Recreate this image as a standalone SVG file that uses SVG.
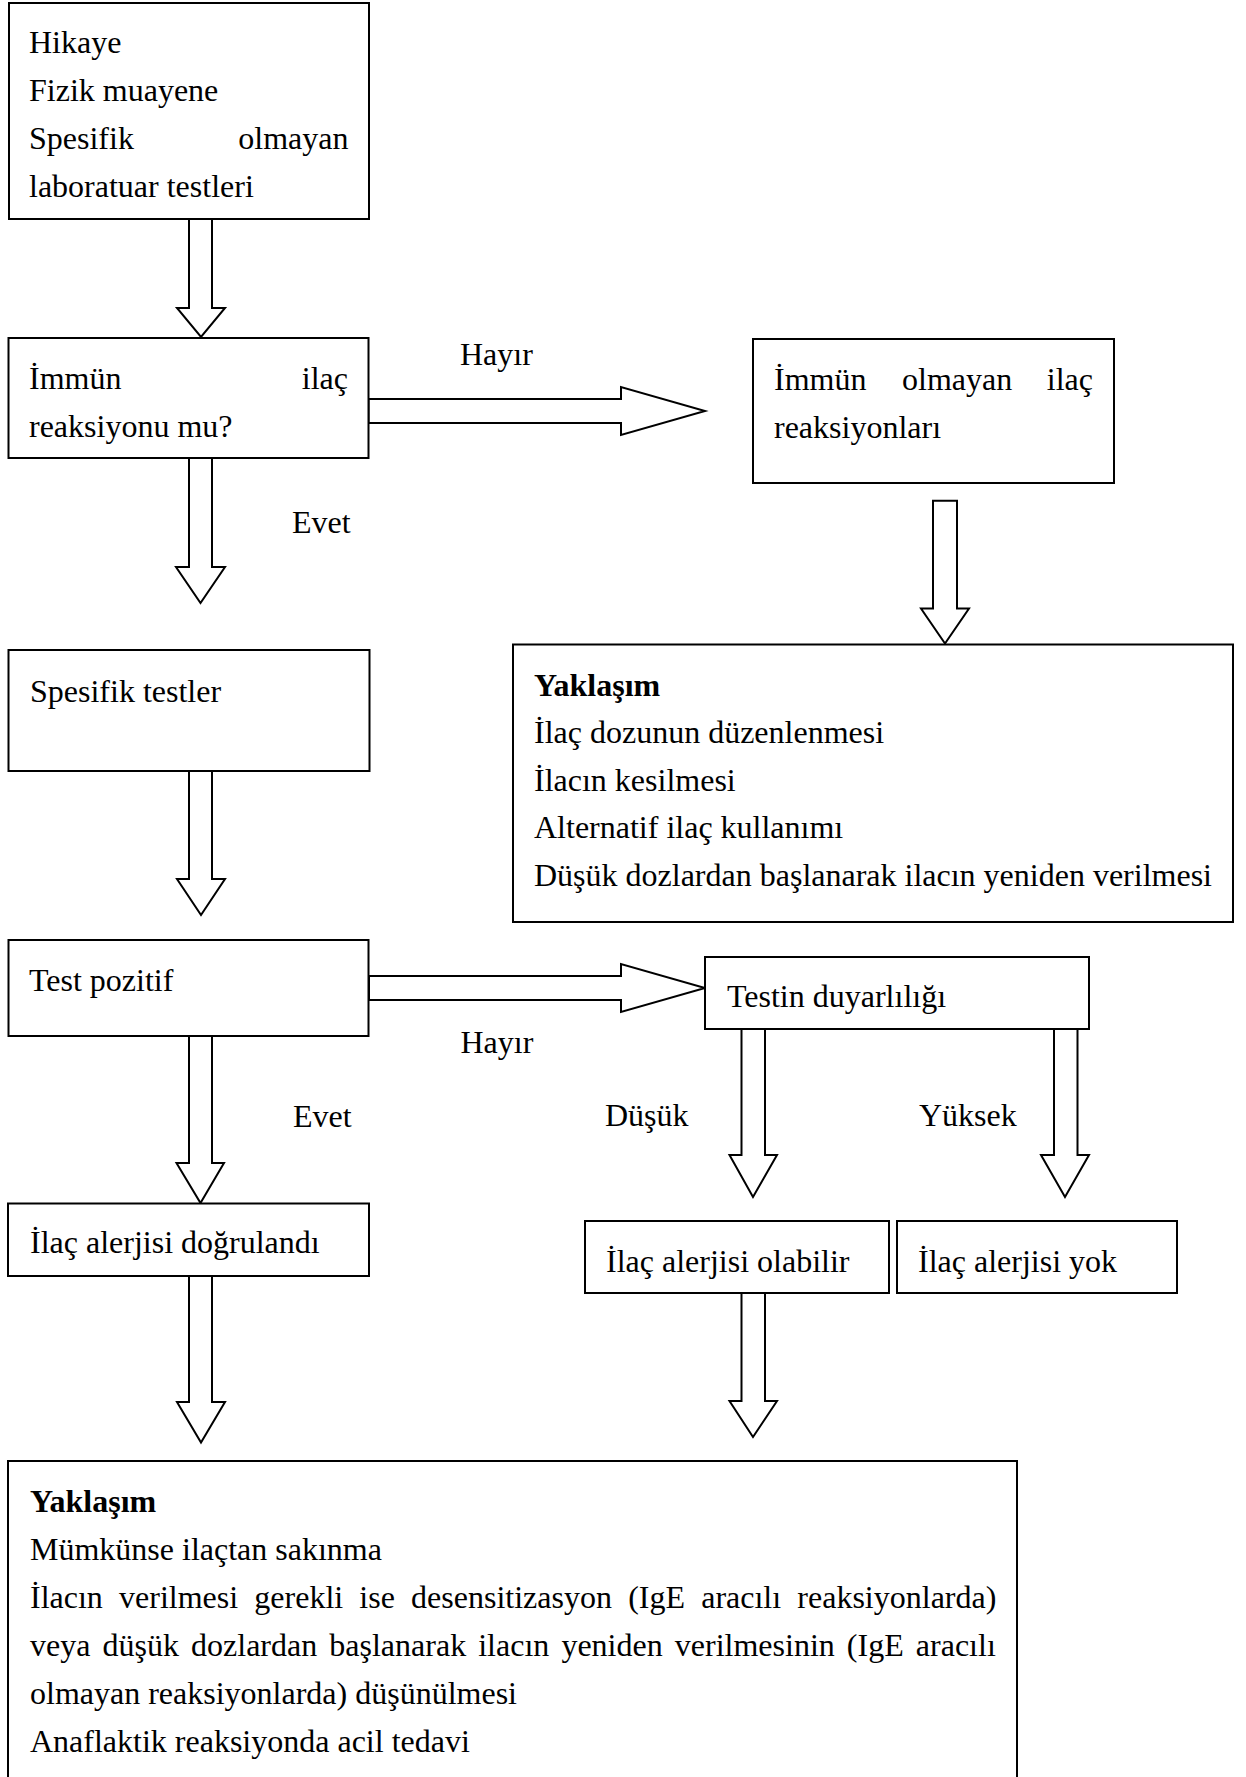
<svg xmlns="http://www.w3.org/2000/svg" width="1246" height="1777" viewBox="0 0 1246 1777">
<style>
.box{fill:#fff;stroke:#000;stroke-width:2}
.arr{fill:#fff;stroke:#000;stroke-width:2;stroke-linejoin:miter}
text{font-family:"Liberation Serif","Times New Roman",serif;font-size:32px;fill:#000}
.b{font-weight:bold}
</style>
<rect width="1246" height="1777" fill="#fff"/>
<g id="connectors">
<polygon class="arr" points="189,219 212,219 212,308 225,308 201,337 177,308 189,308"/>
<polygon class="arr" points="368.5,399 621,399 621,387 705,411 621,435 621,423 368.5,423"/>
<polygon class="arr" points="189,458 212,458 212,567 225,567 200.5,603 176,567 189,567"/>
<polygon class="arr" points="933,500.7 957,500.7 957,608.5 969,608.5 945,643.5 921,608.5 933,608.5"/>
<polygon class="arr" points="189,771 212,771 212,879 225,879 201,915 177,879 189,879"/>
<polygon class="arr" points="369,976 621,976 621,964 705,988 621,1012 621,1000 369,1000"/>
<polygon class="arr" points="189,1036 212,1036 212,1163 224,1163 200.5,1203 176.5,1163 189,1163"/>
<polygon class="arr" points="741.5,1029 765,1029 765,1155 777,1155 753,1197 729.5,1155 741.5,1155"/>
<polygon class="arr" points="1054,1029 1077.5,1029 1077.5,1155 1089,1155 1065,1197 1041,1155 1054,1155"/>
<polygon class="arr" points="189,1276 212,1276 212,1402 225,1402 201,1442.5 177,1402 189,1402"/>
<polygon class="arr" points="741.5,1293 765,1293 765,1401 777,1401 753,1437 729.5,1401 741.5,1401"/>
<text x="460" y="365">Hayır</text>
<text x="292" y="532.5">Evet</text>
<text x="460.5" y="1053">Hayır</text>
<text x="293" y="1127">Evet</text>
<text x="605" y="1126">Düşük</text>
<text x="919" y="1126">Yüksek</text>
</g>
<g id="n1">
<rect class="box" x="9" y="3" width="360" height="216"/>
<text x="29" y="53">Hikaye</text>
<text x="29" y="101">Fizik muayene</text>
<text y="149"><tspan x="29">Spesifik</tspan><tspan x="348.5" text-anchor="end">olmayan</tspan></text>
<text x="29" y="197">laboratuar testleri</text>
</g>
<g id="n2">
<rect class="box" x="8.5" y="338" width="360" height="120"/>
<text y="389"><tspan x="29">İmmün</tspan><tspan x="348" text-anchor="end">ilaç</tspan></text>
<text x="29" y="437">reaksiyonu mu?</text>
</g>
<g id="n3">
<rect class="box" x="753" y="339" width="361" height="144"/>
<text y="390"><tspan x="774">İmmün</tspan><tspan x="902">olmayan</tspan><tspan x="1093" text-anchor="end">ilaç</tspan></text>
<text x="774" y="437.5">reaksiyonları</text>
</g>
<g id="n4">
<rect class="box" x="513" y="644.5" width="720" height="277.5"/>
<text class="b" x="534" y="695.5">Yaklaşım</text>
<text x="534" y="743">İlaç dozunun düzenlenmesi</text>
<text x="534" y="790.5">İlacın kesilmesi</text>
<text x="534" y="838">Alternatif ilaç kullanımı</text>
<text x="534" y="885.5">Düşük dozlardan başlanarak ilacın yeniden verilmesi</text>
</g>
<g id="n5">
<rect class="box" x="8.5" y="650" width="361" height="121"/>
<text x="30" y="701.5">Spesifik testler</text>
</g>
<g id="n6">
<rect class="box" x="8.5" y="940" width="360" height="96"/>
<text x="29" y="991">Test pozitif</text>
</g>
<g id="n7">
<rect class="box" x="705" y="957" width="384" height="72"/>
<text x="727" y="1006.5">Testin duyarlılığı</text>
</g>
<g id="n8">
<rect class="box" x="8" y="1203.5" width="361" height="72.5"/>
<text x="30" y="1253">İlaç alerjisi doğrulandı</text>
</g>
<g id="n9">
<rect class="box" x="585" y="1221" width="304" height="72"/>
<text x="606" y="1271.5">İlaç alerjisi olabilir</text>
</g>
<g id="n10">
<rect class="box" x="897" y="1221" width="280" height="72"/>
<text x="918" y="1271.5">İlaç alerjisi yok</text>
</g>
<g id="n11">
<rect class="box" x="8" y="1461" width="1009" height="340"/>
<text class="b" x="30" y="1511.5">Yaklaşım</text>
<text x="30" y="1559.5">Mümkünse ilaçtan sakınma</text>
<text x="30" y="1607.5" word-spacing="8.2">İlacın verilmesi gerekli ise desensitizasyon (IgE aracılı reaksiyonlarda)</text>
<text x="30" y="1655.5" word-spacing="4.1">veya düşük dozlardan başlanarak ilacın yeniden verilmesinin (IgE aracılı</text>
<text x="30" y="1703.5">olmayan reaksiyonlarda) düşünülmesi</text>
<text x="30" y="1751.5">Anaflaktik reaksiyonda acil tedavi</text>
</g>
</svg>
